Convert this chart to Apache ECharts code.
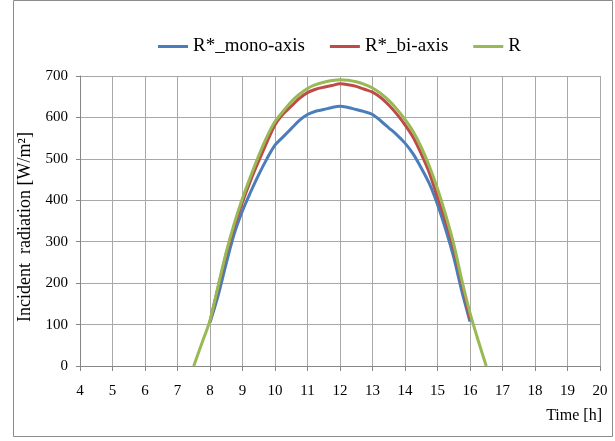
<!DOCTYPE html>
<html>
<head>
<meta charset="utf-8">
<script src="https://cdn.jsdelivr.net/npm/echarts@6/dist/echarts.min.js"></script>
<style>
html,body{margin:0;padding:0;background:#fff;}
#chart{width:615px;height:441px;}
</style>
</head>
<body>
<div id="chart"></div>
<script>
var times = [7.5,7.75,8,8.25,8.5,8.75,9,9.25,9.5,9.75,10,10.25,10.5,10.75,11,11.25,11.5,11.75,12,12.25,12.5,12.75,13,13.25,13.5,13.75,14,14.25,14.5,14.75,15,15.25,15.5,15.75,16,16.25,16.5];
var monoAxis = [null,null,105,170,248,320,375,420,462,500,533,553,573,593,607,615,619,624,627,624,619,614,607,592,575,558,538,512,478,440,390,330,262,180,107,null,null];
var biAxis = [null,null,108,190,270,338,396,448,495,540,582,608,627,646,660,668,673,677,681,679,675,668,661,648,630,608,582,552,512,466,407,350,283,200,115,null,null];
var rTotal = [0,55,110,193,275,345,405,458,508,553,590,615,638,656,670,679,685,689,691,690,686,680,671,658,641,620,595,566,528,482,428,365,294,207,128,62,0];
var seriesNames = ['R*_mono-axis','R*_bi-axis','R'];
var xTicks = {min:4, max:20, interval:1};
var yTicks = {min:0, max:700, interval:100};

function pairs(vals){
  var out = [];
  for (var i=0;i<times.length;i++){ if (vals[i]!==null) out.push([times[i], vals[i]]); }
  return out;
}
var font = 'Liberation Serif';
var chart = echarts.init(document.getElementById('chart'));
chart.setOption({
  animation:false,
  backgroundColor:'#fff',
  textStyle:{fontFamily:font},
  graphic:[
    {type:'rect', shape:{x:13.5,y:0.5,width:599,height:436}, style:{fill:'none',stroke:'#8c8c8c',lineWidth:1}, silent:true, z:-1},
    {type:'text', right:13, top:408, style:{text:'Time [h]', font:'16px "Liberation Serif"', fill:'#000'}}
  ],
  legend:{
    left:153, top:32,
    icon:'rect', itemWidth:30, itemHeight:3, itemGap:25,
    textStyle:{fontFamily:font, fontSize:19, color:'#000'},
    data:seriesNames
  },
  grid:{left:80, right:15, top:76, bottom:75, containLabel:false},
  xAxis:{
    type:'value', min:xTicks.min, max:xTicks.max, interval:xTicks.interval,
    axisLine:{show:true, lineStyle:{color:'#868686', width:1}},
    axisTick:{show:true, length:5, lineStyle:{color:'#868686'}},
    axisLabel:{margin:18, fontFamily:font, fontSize:15, color:'#000'},
    splitLine:{show:true, lineStyle:{color:'#a8a8a8', width:1}}
  },
  yAxis:{
    type:'value', min:yTicks.min, max:yTicks.max, interval:yTicks.interval,
    name:'Incident  radiation [W/m²]', nameLocation:'middle', nameGap:44,
    nameTextStyle:{fontFamily:font, fontSize:18, color:'#000', padding:[0,0,0,-12]},
    axisLine:{show:true, lineStyle:{color:'#868686', width:1}},
    axisTick:{show:true, length:4, lineStyle:{color:'#868686'}},
    axisLabel:{margin:12, fontFamily:font, fontSize:15, color:'#000'},
    splitLine:{show:true, lineStyle:{color:'#a8a8a8', width:1}}
  },
  series:[
    {name:seriesNames[0], type:'line', data:pairs(monoAxis), showSymbol:false, smooth:0.3, lineStyle:{color:'#4a7ebb', width:3}, itemStyle:{color:'#4a7ebb'}, z:2},
    {name:seriesNames[1], type:'line', data:pairs(biAxis), showSymbol:false, smooth:0.3, lineStyle:{color:'#be4b48', width:3}, itemStyle:{color:'#be4b48'}, z:3},
    {name:seriesNames[2], type:'line', data:pairs(rTotal), showSymbol:false, smooth:0.3, lineStyle:{color:'#98b954', width:3}, itemStyle:{color:'#98b954'}, z:4}
  ]
});
</script>
</body>
</html>
